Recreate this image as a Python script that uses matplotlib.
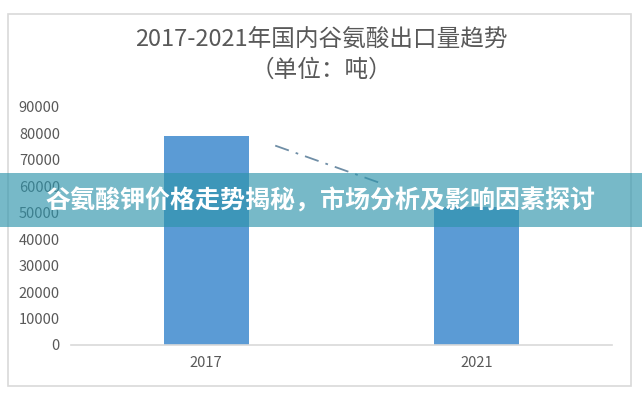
import numpy as np
import matplotlib
matplotlib.use('Agg')
import matplotlib.pyplot as plt
from matplotlib.patches import Rectangle

plt.rcParams['font.family'] = ['Noto Sans CJK SC', 'DejaVu Sans']

# data
years = ['2017', '2021']
export_t = [79000, 52000]
# visible stretch of the dash-dot trend line (category position, value)
trend_x = [0.255, 0.65]
trend_y = [75400, 61000]
yticks = np.arange(0, 90001, 10000)

title = '2017-2021年国内谷氨酸出口量趋势'
subtitle = '（单位：吨）'
banner = '谷氨酸钾价格走势揭秘，市场分析及影响因素探讨'

grey = '#595959'

fig = plt.figure(figsize=(6.42, 4.0), dpi=100)
ax = fig.add_axes([71/642, 55/400, 541/642, 238/400])

x = np.arange(len(years))
ax.bar(x, export_t, width=0.314, color='#5b9bd5', zorder=2)
ax.plot(trend_x, trend_y, color='#6f8ea6', lw=1.3, ls=(0, (8, 4, 1.5, 4)), zorder=3)

ax.set_xlim(-0.5, 1.5)
ax.set_ylim(0, 90000)
ax.set_xticks(x)
ax.set_xticklabels(years)
ax.set_yticks(yticks)
ax.set_yticklabels([str(v) for v in yticks])
ax.tick_params(axis='both', length=0, labelsize=10.5, colors=grey)
ax.tick_params(axis='y', pad=8)
ax.tick_params(axis='x', pad=8)
for s in ['top', 'right', 'left']:
    ax.spines[s].set_visible(False)
ax.spines['bottom'].set_color('#d9d9d9')
ax.spines['bottom'].set_linewidth(1.2)

# chart frame
fig.patches.append(Rectangle((8/642, 14/400), 623/642, 372/400, transform=fig.transFigure,
                             fill=False, edgecolor='#d9d9d9', lw=1.2))

fig.text(0.5, 1 - 40/400, title, ha='center', va='center', fontsize=17, color=grey)
fig.text(0.5, 1 - 70/400, subtitle, ha='center', va='center', fontsize=17, color=grey)

# overlay banner
fig.patches.append(Rectangle((0, 173/400), 1, 54/400, transform=fig.transFigure,
                             facecolor='#2e94ab', alpha=0.65, edgecolor='none', zorder=10))
fig.text(0.5, 1 - 201/400, banner, ha='center', va='center', fontsize=18,
         fontweight='heavy', color='white', zorder=11)

fig.savefig('out.png', dpi=100)
